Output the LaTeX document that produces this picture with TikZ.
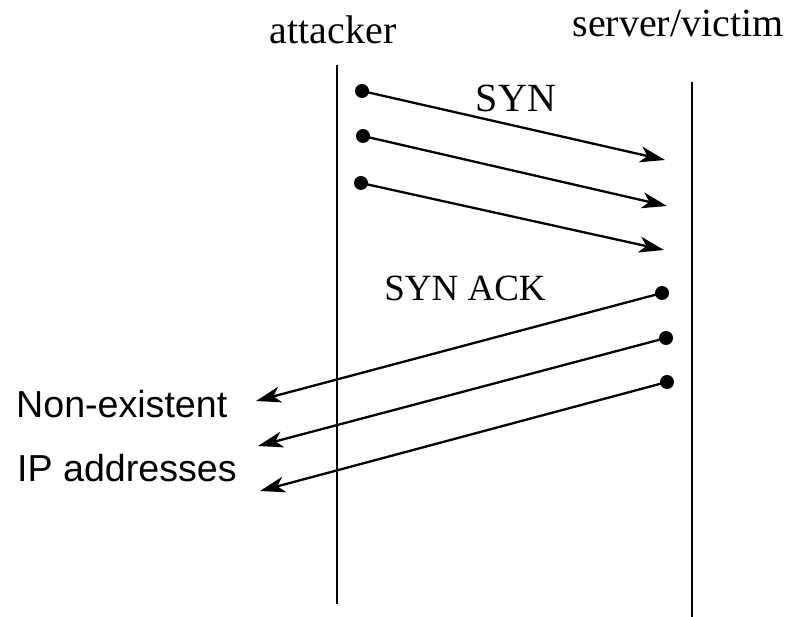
\documentclass[tikz,border=0pt]{standalone}
\usepackage{fontspec}
\setmainfont{Liberation Serif}
\newfontfamily\arialfont{Liberation Sans}
\usetikzlibrary{arrows.meta}
\begin{document}
\begin{tikzpicture}[x=1pt,y=-1pt,
  lifeline/.style={line width=2.5pt},
  msg/.style={line width=2.3pt,-{Stealth[length=25pt,width=16pt,inset=7pt]}},
  dotnode/.style={circle,fill=black,inner sep=0pt,minimum size=14pt},
  serif/.style={font=\fontsize{40}{44}\selectfont},
  sans/.style={font=\arialfont\fontsize{37.6}{40}\selectfont}]
\useasboundingbox (0,0) rectangle (796,617);
% titles
\node[serif,anchor=base] (att) at (333,44) {attacker};
\node[serif,anchor=base] (srv) at (678,37) {server/victim};
% lifelines
\coordinate (a1) at (337,65);
\coordinate (a2) at (337,604);
\coordinate (s1) at (692,82);
\coordinate (s2) at (692,617);
\draw[lifeline] (a1) -- (a2);
\draw[lifeline] (s1) -- (s2);
% SYN
\node[dotnode] (d1) at (362,91) {};
\node[dotnode] (d2) at (363,136) {};
\node[dotnode] (d3) at (361,183) {};
\coordinate (t1) at (665,160);
\coordinate (t2) at (667,206);
\coordinate (t3) at (664,250);
\draw[msg] (d1.center) -- (t1);
\draw[msg] (d2.center) -- (t2);
\draw[msg] (d3.center) -- (t3);
\node[serif,anchor=base] (syn) at (516,112) {SYN};
% SYN ACK
\node[dotnode] (e1) at (662,293) {};
\node[dotnode] (e2) at (666,338) {};
\node[dotnode] (e3) at (667,382) {};
\coordinate (u1) at (256,401);
\coordinate (u2) at (258,446);
\coordinate (u3) at (260,491);
\draw[msg] (e1.center) -- (u1);
\draw[msg] (e2.center) -- (u2);
\draw[msg] (e3.center) -- (u3);
\node[serif,anchor=base,font=\fontsize{37}{40}\selectfont] (synack) at (465,301) {SYN ACK};
% left labels
\node[sans,anchor=base west,inner sep=0pt] (ne) at (16,418) {Non-existent};
\node[sans,anchor=base west,inner sep=0pt] (ip) at (17,482) {IP addresses};
\end{tikzpicture}
\end{document}
